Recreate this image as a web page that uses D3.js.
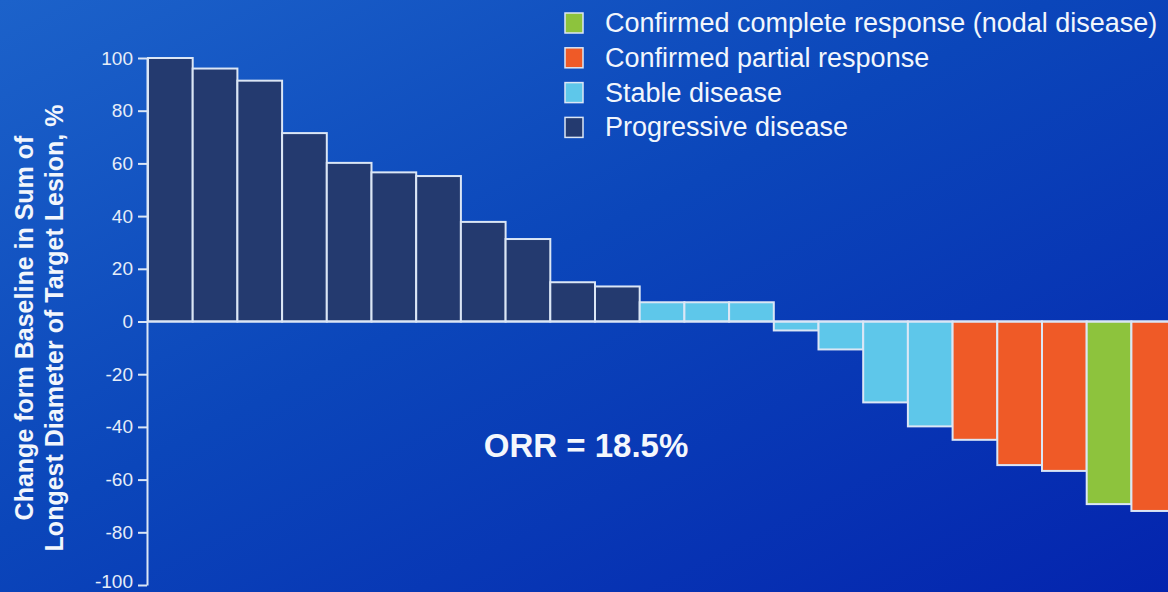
<!DOCTYPE html>
<html>
<head>
<meta charset="utf-8">
<script src="https://cdn.jsdelivr.net/npm/d3@7"></script>
<style>
  html, body { margin: 0; padding: 0; background: #0a3fb8; }
  svg { display: block; }
  text { font-family: "Liberation Sans", Arial, sans-serif; }
</style>
</head>
<body>
<svg id="chart" width="1168" height="592"></svg>
<script>
// Best percentage change from baseline per patient, ordered as a waterfall
const patients = d3.range(1, 24).map(i => "P" + i);
const changes = [100, 96, 91.4, 71.5, 60.2, 56.6, 55.2, 37.8, 31.3, 14.9, 13.3,
                 7.3, 7.3, 7.3, -3.4, -10.6, -30.7, -39.8,
                 -44.9, -54.5, -56.7, -69.3, -71.9];
const responses = ["PD", "PD", "PD", "PD", "PD", "PD", "PD", "PD", "PD", "PD", "PD",
                   "SD", "SD", "SD", "SD", "SD", "SD", "SD",
                   "PR", "PR", "PR", "CR", "PR"];
const yTicks = [100, 80, 60, 40, 20, 0, -20, -40, -60, -80, -100];
const legendKeys = ["CR", "PR", "SD", "PD"];
const legendLabels = ["Confirmed complete response (nodal disease)",
                      "Confirmed partial response",
                      "Stable disease",
                      "Progressive disease"];
const axisTitle = ["Change form Baseline in Sum of", "Longest Diameter of Target Lesion, %"];
const annotation = "ORR = 18.5%";

const colour = d3.scaleOrdinal()
  .domain(["CR", "PR", "SD", "PD"])
  .range(["#8dc33d", "#ef5a27", "#5ec7ea", "#243a6f"]);

const svg = d3.select("#chart");
const W = 1168, H = 592;

// Blue slide background
const defs = svg.append("defs");
const bg = defs.append("linearGradient").attr("id", "bg")
  .attr("x1", "0").attr("y1", "0").attr("x2", "1").attr("y2", "1");
bg.append("stop").attr("offset", "0").attr("stop-color", "#1c62ca");
bg.append("stop").attr("offset", "0.45").attr("stop-color", "#0b46ba");
bg.append("stop").attr("offset", "1").attr("stop-color", "#0424ae");
svg.append("rect").attr("width", W).attr("height", H).attr("fill", "url(#bg)");

const x = d3.scaleBand().domain(patients).range([148, 148 + 23 * 44.7]).padding(0);
const y = d3.scaleLinear().domain([-100, 100]).range([585, 58]);

const lineCol = "#dbe6f5";

// Bars
svg.append("g").selectAll("rect")
  .data(patients.map((p, i) => ({ p, v: changes[i], r: responses[i] })))
  .join("rect")
  .attr("x", d => x(d.p))
  .attr("width", x.bandwidth())
  .attr("y", d => Math.min(y(d.v), y(0)))
  .attr("height", d => Math.abs(y(d.v) - y(0)))
  .attr("fill", d => colour(d.r))
  .attr("stroke", lineCol)
  .attr("stroke-width", 2);

// Zero baseline across the plot
svg.append("line")
  .attr("x1", 147).attr("x2", W)
  .attr("y1", y(0)).attr("y2", y(0))
  .attr("stroke", lineCol).attr("stroke-width", 2.2);

// Y axis (plain hyphen for negative labels)
const yAxis = svg.append("g")
  .attr("transform", "translate(147,0)")
  .call(d3.axisLeft(y).tickValues(yTicks).tickFormat(d => String(d))
    .tickSize(9).tickPadding(5).tickSizeOuter(0));
yAxis.select(".domain").attr("stroke", lineCol).attr("stroke-width", 2);
yAxis.selectAll(".tick line").attr("stroke", lineCol).attr("stroke-width", 2);
yAxis.selectAll(".tick text")
  .attr("fill", "#e6edf8")
  .style("font-size", "19px")
  .style("font-family", "'Liberation Sans', Arial, sans-serif")
  .attr("dy", d => d === -100 ? "0.12em" : "0.32em");

// Y axis title (two lines)
const title = svg.append("g").attr("transform", "translate(0,328) rotate(-90)");
title.selectAll("text").data(axisTitle).join("text")
  .attr("x", 0)
  .attr("y", (d, i) => 33 + i * 30)
  .attr("text-anchor", "middle")
  .attr("fill", "#f2f6fc")
  .style("font-size", "25px")
  .style("font-weight", "bold")
  .text(d => d);

// Legend
const legend = svg.append("g");
const rows = legend.selectAll("g").data(legendKeys).join("g")
  .attr("transform", (d, i) => `translate(565,${13 + i * 34.8})`);
rows.append("rect")
  .attr("width", 18).attr("height", 20)
  .attr("fill", d => colour(d))
  .attr("stroke", lineCol).attr("stroke-width", 1.5);
rows.append("text")
  .attr("x", 40).attr("y", 19)
  .attr("fill", "#f2f6fc")
  .style("font-size", "27px")
  .text((d, i) => legendLabels[i]);

// Objective response rate annotation
svg.append("text")
  .attr("x", 586).attr("y", 457)
  .attr("text-anchor", "middle")
  .attr("fill", "#f4f7fc")
  .style("font-size", "33px")
  .style("font-weight", "bold")
  .text(annotation);
</script>
</body>
</html>
